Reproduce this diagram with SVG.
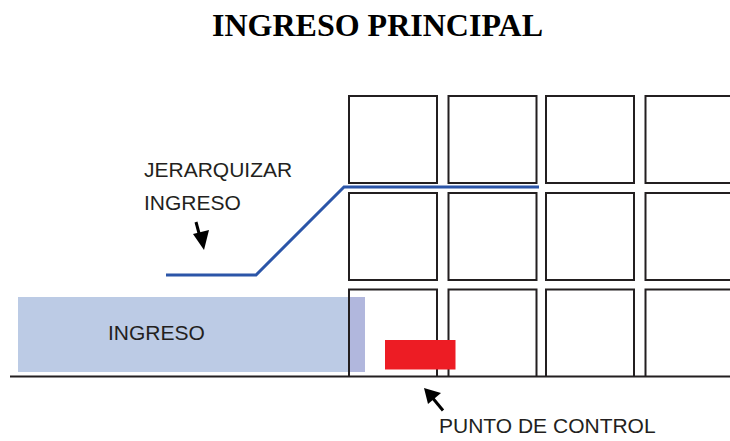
<svg xmlns="http://www.w3.org/2000/svg" width="730" height="441" viewBox="0 0 730 441">
<style>
.box{fill:none;stroke:#231f20;stroke-width:2}
.lbl{font-family:"Liberation Sans",Arial,sans-serif;font-size:21px;fill:#231f20}
.title{font-family:"Liberation Serif","Times New Roman",serif;font-size:32px;font-weight:bold;fill:#000}
.arrow{fill:#000}
</style>
<rect width="730" height="441" fill="#fff"/>
<text class="title" x="377.5" y="36" text-anchor="middle">INGRESO PRINCIPAL</text>
<g id="ingreso-area">
<rect x="18" y="297" width="347" height="75" fill="#bccbe5"/>
<rect x="350" y="297" width="15" height="75" fill="#b1b7dd"/>
<text class="lbl" x="108" y="340">INGRESO</text>
</g>
<g id="grid">
<rect class="box" x="349" y="96" width="88" height="87"/>
<rect class="box" x="448.5" y="96" width="88" height="87"/>
<rect class="box" x="546" y="96" width="88" height="87"/>
<rect class="box" x="645.5" y="96" width="88" height="87"/>
<rect class="box" x="349" y="193" width="88" height="87"/>
<rect class="box" x="448.5" y="193" width="88" height="87"/>
<rect class="box" x="546" y="193" width="88" height="87"/>
<rect class="box" x="645.5" y="193" width="88" height="87"/>
<path class="box" d="M349,376V289.5H437V376M448.5,376V289.5H536.5V376M546,376V289.5H634V376M645.5,376V289.5H733"/>
</g>
<g id="punto-control">
<rect x="385" y="340" width="70.5" height="29.5" fill="#ed1c24"/>
<text class="lbl" x="439" y="433">PUNTO DE CONTROL</text>
</g>
<g id="jerarquizar">
<text class="lbl" x="144" y="177">JERARQUIZAR</text>
<text class="lbl" x="144" y="209.5">INGRESO</text>
</g>
<g id="connectors">
<line x1="10" y1="376.5" x2="730" y2="376.5" stroke="#231f20" stroke-width="2"/>
<polyline points="166,275 256,275 344,187 539,187" fill="none" stroke="#2b55a8" stroke-width="3"/>
<line x1="196" y1="222" x2="200" y2="237" stroke="#000" stroke-width="3"/>
<polygon class="arrow" points="193,234 209,230 204,250"/>
<line x1="443" y1="410.5" x2="431" y2="396" stroke="#000" stroke-width="3"/>
<polygon class="arrow" points="424,388 441,393 428,404"/>
</g>
</svg>
